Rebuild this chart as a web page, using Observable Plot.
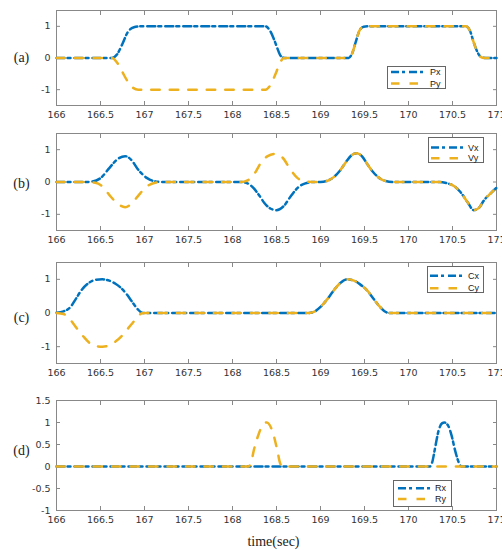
<!DOCTYPE html>
<html>
<head>
<meta charset="utf-8">
<script src="https://cdn.jsdelivr.net/npm/d3@7"></script>
<script src="https://cdn.jsdelivr.net/npm/@observablehq/plot@0.6"></script>
<style>
  body { margin: 0; background: #fff; }
  #root { position: relative; width: 502px; height: 550px; background: #fff; overflow: hidden; }
  #root > .panel { position: absolute; left: 0; }
  #root > .legend { position: absolute; }
</style>
</head>
<body>
<div id="root"></div>
<script>
// ---------- data ----------
const xTicks = [166, 166.5, 167, 167.5, 168, 168.5, 169, 169.5, 170, 170.5, 171];
const yTicksABC = [-1, 0, 1];
const yTicksD = [-1, -0.5, 0, 0.5, 1, 1.5];

// (a) position
const pxT = [166, 166.63, 166.69, 166.75, 166.81, 166.88, 166.95, 167, 168.375, 168.42, 168.47, 168.5, 168.54, 168.58, 168.62, 169.32, 169.36, 169.4, 169.44, 169.49, 169.53, 170.65, 170.7, 170.74, 170.79, 170.84, 170.88, 171];
const pxV = [0, 0, 0.12, 0.45, 0.82, 0.97, 1, 1, 1, 0.89, 0.6, 0.38, 0.1, 0.01, 0, 0, 0.15, 0.5, 0.85, 0.99, 1, 1, 0.85, 0.5, 0.15, 0.01, 0, 0];
const pyT = [166, 166.63, 166.69, 166.75, 166.8, 166.86, 166.93, 167, 168.375, 168.42, 168.49, 168.54, 168.58, 168.62, 169.32, 169.36, 169.4, 169.44, 169.49, 169.53, 170.65, 170.7, 170.74, 170.79, 170.84, 170.88, 171];
const pyV = [0, 0, -0.15, -0.45, -0.7, -0.92, -1, -1, -1, -0.9, -0.5, -0.15, -0.01, 0, 0, 0.15, 0.5, 0.85, 0.99, 1, 1, 0.85, 0.5, 0.15, 0.01, 0, 0];

// (b) velocity
const vxT = [166, 166.32, 166.4, 166.5, 166.6, 166.69, 166.78, 166.86, 166.92, 167.03, 167.12, 167.2, 168.1, 168.17, 168.24, 168.3, 168.36, 168.43, 168.5, 168.58, 168.66, 168.74, 168.82, 168.92, 169.0, 169.08, 169.15, 169.22, 169.29, 169.35, 169.41, 169.47, 169.53, 169.6, 169.66, 169.74, 169.82, 170.35, 170.44, 170.52, 170.59, 170.67, 170.74, 170.8, 170.86, 170.93, 171];
const vxV = [0, 0, 0.01, 0.12, 0.43, 0.7, 0.8, 0.65, 0.41, 0.12, 0.02, 0, 0, -0.04, -0.19, -0.4, -0.64, -0.82, -0.87, -0.75, -0.45, -0.18, -0.05, 0, 0, 0.04, 0.15, 0.35, 0.62, 0.82, 0.89, 0.8, 0.56, 0.3, 0.14, 0.03, 0, 0, -0.04, -0.13, -0.31, -0.62, -0.87, -0.8, -0.56, -0.36, -0.18];
const vyT = [166, 166.35, 166.44, 166.52, 166.6, 166.69, 166.78, 166.86, 166.93, 167.03, 167.12, 167.2, 168.08, 168.14, 168.2, 168.26, 168.32, 168.4, 168.49, 168.57, 168.66, 168.74, 168.82, 168.9, 169.0, 169.08, 169.15, 169.22, 169.29, 169.35, 169.41, 169.47, 169.53, 169.6, 169.66, 169.74, 169.82, 170.35, 170.44, 170.52, 170.59, 170.67, 170.74, 170.8, 170.86, 170.93, 171];
const vyV = [0, 0, -0.02, -0.13, -0.4, -0.66, -0.78, -0.65, -0.42, -0.13, -0.02, 0, 0, 0.02, 0.1, 0.3, 0.58, 0.8, 0.87, 0.75, 0.38, 0.12, 0.02, 0, 0, 0.04, 0.15, 0.35, 0.62, 0.82, 0.89, 0.8, 0.56, 0.3, 0.14, 0.03, 0, 0, -0.04, -0.13, -0.31, -0.62, -0.87, -0.8, -0.56, -0.36, -0.18];

// (c)
const cxT = [166, 166.08, 166.16, 166.22, 166.29, 166.37, 166.45, 166.52, 166.6, 166.67, 166.73, 166.8, 166.86, 166.92, 166.97, 167.02, 168.87, 168.93, 169.0, 169.08, 169.15, 169.22, 169.3, 169.38, 169.45, 169.53, 169.6, 169.66, 169.72, 169.78, 171];
const cxV = [0.01, 0.05, 0.18, 0.42, 0.7, 0.9, 0.99, 1, 0.96, 0.87, 0.75, 0.55, 0.33, 0.12, 0.01, 0, 0, 0.04, 0.18, 0.42, 0.67, 0.88, 1, 0.96, 0.85, 0.67, 0.43, 0.23, 0.07, 0, 0];
const cyT = [166, 166.08, 166.15, 166.22, 166.3, 166.38, 166.46, 166.52, 166.6, 166.67, 166.75, 166.8, 166.86, 166.92, 166.97, 167.02, 168.87, 168.93, 169.0, 169.08, 169.15, 169.22, 169.3, 169.38, 169.45, 169.53, 169.6, 169.66, 169.72, 169.78, 171];
const cyV = [0, -0.03, -0.18, -0.42, -0.68, -0.9, -0.99, -1, -0.96, -0.85, -0.66, -0.5, -0.31, -0.12, -0.01, 0, 0, 0.04, 0.18, 0.42, 0.67, 0.88, 1, 0.96, 0.85, 0.67, 0.43, 0.23, 0.07, 0, 0];

// (d)
const rxT = [166, 170.24, 170.27, 170.3, 170.34, 170.38, 170.41, 170.45, 170.49, 170.53, 170.57, 170.6, 171];
const rxV = [0, 0, 0.1, 0.4, 0.8, 0.98, 1, 0.93, 0.7, 0.36, 0.1, 0, 0];
const ryT = [166, 168.18, 168.21, 168.24, 168.3, 168.35, 168.39, 168.45, 168.51, 168.54, 168.57, 171];
const ryV = [0, 0, 0.08, 0.35, 0.75, 0.97, 1, 0.82, 0.36, 0.08, 0, 0];

const seriesNames = [["Px", "Py"], ["Vx", "Vy"], ["Cx", "Cy"], ["Rx", "Ry"]];
const panelLabels = ["(a)", "(b)", "(c)", "(d)"];
const xLabel = "time(sec)";

// ---------- styles ----------
const BLUE = "#0072BD", GOLD = "#EDB120";
const dashDot = "8,3,3,4";
const dashed = "8.5,10";
const LW = 2.5;

const zip = (T, V) => T.map((t, i) => ({t, v: V[i]}));

const panels = [
  {top: 0,   height: 125, mt: 10, mb: 20, ydom: [-1.5, 1.5], yt: yTicksABC, a: zip(pxT, pxV), b: zip(pyT, pyV), labelY: 0, labelDy: 0,
   legend: {left: 387, top: 66, w: 59, h: 23, x0: 4, x1: 38, tx: 43, r1: 6, r2: 17.5}},
  {top: 125, height: 125, mt: 8,  mb: 20, ydom: [-1.5, 1.5], yt: yTicksABC, a: zip(vxT, vxV), b: zip(vyT, vyV), labelY: 0, labelDy: 2,
   legend: {left: 428, top: 137, w: 56, h: 26, x0: 3, x1: 37, tx: 40, r1: 10.5, r2: 21.3}},
  {top: 250, height: 135, mt: 12, mb: 22, ydom: [-1.5, 1.5], yt: yTicksABC, a: zip(cxT, cxV), b: zip(cyT, cyV), labelY: 0, labelDy: 5,
   legend: {left: 427, top: 266, w: 57, h: 27, x0: 3, x1: 38, tx: 41, r1: 9.7, r2: 22.3}},
  {top: 385, height: 165, mt: 15, mb: 40, ydom: [-1, 1.5], yt: yTicksD, a: zip(rxT, rxV), b: zip(ryT, ryV), labelY: 0.36, labelDy: 0,
   legend: {left: 393, top: 480, w: 59, h: 27, x0: 5, x1: 39, tx: 42, r1: 8.3, r2: 19}}
];

const root = document.getElementById("root");
const fmt = d => String(d);
const axisCommon = {tickSize: -4, tickPadding: 10, stroke: "#888", fill: "#333", label: null,
  fontFamily: "DejaVu Sans", fontSize: 9.5};

panels.forEach((p, idx) => {
  const marks = [
    Plot.frame({stroke: "#888"}),
    Plot.axisX(xTicks, {...axisCommon, anchor: "bottom", tickFormat: fmt}),
    Plot.axisX(xTicks, {...axisCommon, anchor: "top", fill: "none"}),
    Plot.axisY(p.yt, {...axisCommon, anchor: "left", tickFormat: fmt}),
    Plot.axisY(p.yt, {...axisCommon, anchor: "right", fill: "none"}),
    Plot.line(p.a, {x: "t", y: "v", stroke: BLUE, strokeWidth: LW, strokeDasharray: dashDot, curve: "monotone-x"}),
    Plot.line(p.b, {x: "t", y: "v", stroke: GOLD, strokeWidth: LW, strokeDasharray: dashed, curve: "monotone-x"}),
    Plot.text([{t: xTicks[0], v: p.labelY, s: panelLabels[idx]}], {x: "t", y: "v", text: "s", dx: -35, dy: p.labelDy,
      fontFamily: "Liberation Serif", fontSize: 14, fill: "#222"})
  ];
  if (idx === 3) {
    marks.push(Plot.text([xLabel], {frameAnchor: "bottom", dx: -3, dy: 35, fontFamily: "Liberation Serif", fontSize: 14, fill: "#222"}));
  }
  const chart = Plot.plot({
    width: 502, height: p.height,
    marginLeft: 56, marginRight: 6, marginTop: p.mt, marginBottom: p.mb,
    x: {domain: [166, 171], axis: null},
    y: {domain: p.ydom, axis: null},
    style: {background: "transparent", overflow: "visible"},
    marks
  });
  chart.classList.add("panel");
  chart.style.top = p.top + "px";
  root.appendChild(chart);

  // legend
  const L = p.legend;
  const svg = d3.create("svg").attr("class", "legend").attr("width", L.w).attr("height", L.h)
    .style("left", L.left + "px").style("top", L.top + "px");
  svg.append("rect").attr("x", 0.5).attr("y", 0.5).attr("width", L.w - 1).attr("height", L.h - 1)
    .attr("fill", "#fff").attr("stroke", "#666");
  [[L.r1, BLUE, dashDot], [L.r2, GOLD, dashed]].forEach(([ry, c, da], k) => {
    svg.append("line").attr("x1", L.x0).attr("x2", L.x1).attr("y1", ry).attr("y2", ry)
      .attr("stroke", c).attr("stroke-width", LW).attr("stroke-dasharray", da);
    svg.append("text").attr("x", L.tx).attr("y", ry).attr("dy", "0.35em")
      .attr("font-family", "Liberation Sans").attr("font-size", 9).attr("fill", "#222")
      .text(seriesNames[idx][k]);
  });
  root.appendChild(svg.node());
});
</script>
</body>
</html>
